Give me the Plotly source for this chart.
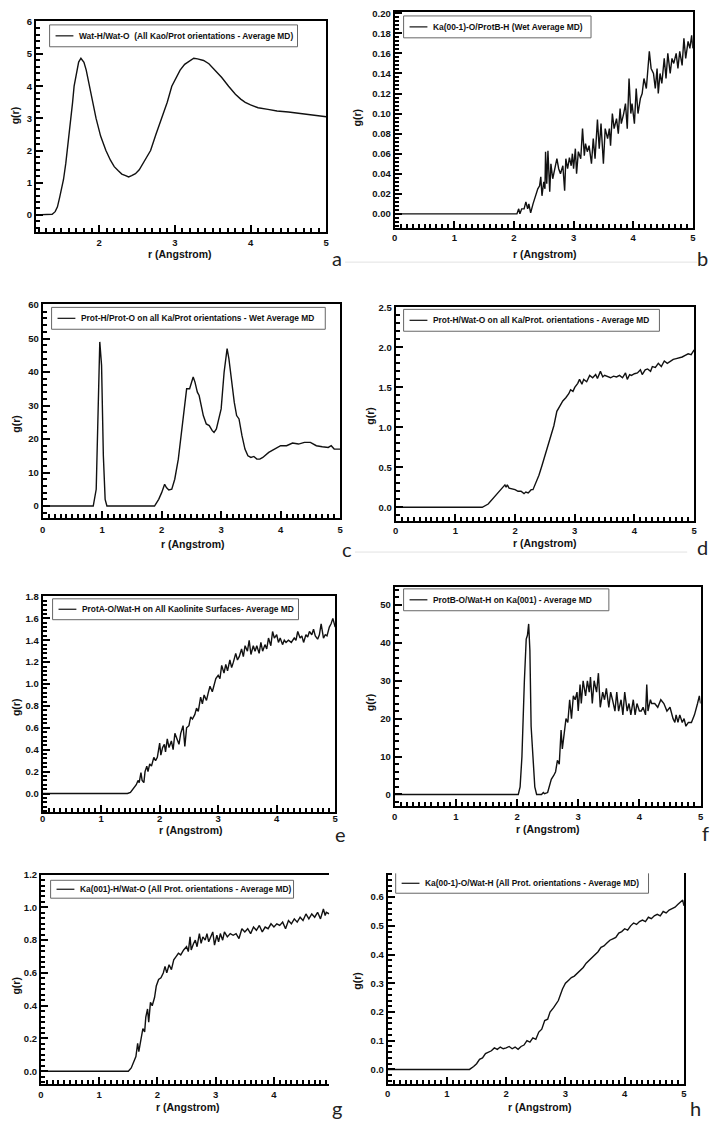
import plotly.graph_objects as go

W, H = 714, 1121

# ---------------- data ----------------
a_r = [1.17, 1.3, 1.38, 1.42, 1.45, 1.48, 1.51, 1.53, 1.56, 1.58, 1.61, 1.63, 1.65, 1.67, 1.7, 1.73, 1.76, 1.78,
       1.8, 1.83, 1.87, 1.91, 1.96, 2.02, 2.09, 2.15, 2.2, 2.25, 2.3, 2.35, 2.39, 2.43, 2.48, 2.53, 2.58, 2.63,
       2.68, 2.75, 2.83, 2.9, 2.96, 3.02, 3.07, 3.13, 3.2, 3.25, 3.3, 3.38, 3.45, 3.53, 3.62, 3.71, 3.8, 3.87,
       3.93, 4.0, 4.1, 4.23, 4.35, 4.5, 4.67, 4.8, 4.9, 5.0]
a_g = [0.0, 0.0, 0.02, 0.1, 0.25, 0.55, 0.9, 1.1, 1.6, 2.0, 2.5, 3.0, 3.5, 4.0, 4.4, 4.75, 4.87, 4.78,
       4.74, 4.5, 4.0, 3.5, 3.0, 2.45, 2.0, 1.7, 1.5, 1.38, 1.27, 1.22, 1.18, 1.22, 1.28, 1.4, 1.6, 1.8,
       2.0, 2.5, 3.0, 3.5, 4.0, 4.3, 4.5, 4.68, 4.8, 4.87, 4.85, 4.8, 4.7, 4.5, 4.27, 4.0, 3.75, 3.6,
       3.5, 3.42, 3.33, 3.28, 3.23, 3.2, 3.15, 3.12, 3.08, 3.05]

b_r = [0.0, 2.05, 2.08, 2.1, 2.13, 2.17, 2.2, 2.23, 2.25, 2.28, 2.32, 2.36, 2.4, 2.43, 2.45, 2.47, 2.5, 2.52,
       2.53, 2.55, 2.57, 2.6, 2.62, 2.65, 2.68, 2.72, 2.75, 2.78, 2.82, 2.85, 2.87, 2.9, 2.93, 2.96, 2.98, 3.0,
       3.03, 3.05, 3.08, 3.12, 3.15, 3.18, 3.2, 3.23, 3.26, 3.3, 3.33, 3.36, 3.4, 3.43, 3.46, 3.5, 3.53, 3.57,
       3.6, 3.62, 3.65, 3.68, 3.72, 3.75, 3.78, 3.8, 3.84, 3.87, 3.9, 3.93, 3.96, 3.98, 4.02, 4.05, 4.08, 4.12,
       4.15, 4.18, 4.22, 4.27, 4.3, 4.34, 4.37, 4.4, 4.42, 4.45, 4.48, 4.52, 4.55, 4.58, 4.62, 4.65, 4.68, 4.72,
       4.75, 4.78, 4.82, 4.85, 4.88, 4.92, 4.95, 4.98, 5.0]
b_g = [0.0, 0.0, 0.005, 0.0, 0.005, 0.005, 0.012, 0.005, 0.01, 0.001, 0.01, 0.018, 0.025, 0.028, 0.037, 0.018,
       0.032, 0.025, 0.062, 0.03, 0.063, 0.022, 0.05, 0.035, 0.045, 0.055, 0.045, 0.04, 0.048, 0.023, 0.055,
       0.045, 0.056, 0.048, 0.06, 0.045, 0.065, 0.04, 0.062, 0.055, 0.085, 0.058, 0.07, 0.062, 0.068, 0.05,
       0.075, 0.055, 0.094, 0.065, 0.09, 0.05, 0.085, 0.075, 0.085, 0.068, 0.1, 0.085, 0.095, 0.08, 0.105,
       0.09, 0.1, 0.11, 0.085, 0.135, 0.1, 0.11, 0.09, 0.125, 0.1, 0.115, 0.12, 0.135, 0.125, 0.162, 0.145,
       0.14, 0.125, 0.145, 0.12, 0.14, 0.13, 0.155, 0.135, 0.16, 0.14, 0.155, 0.15, 0.16, 0.145, 0.162, 0.148,
       0.175, 0.155, 0.172, 0.165, 0.178, 0.165]

c_r = [0.0, 0.85, 0.9, 0.93, 0.96, 0.99, 1.02, 1.05, 1.08, 1.88, 1.95, 2.0, 2.05, 2.08, 2.12, 2.17, 2.22, 2.28,
       2.33, 2.38, 2.42, 2.47, 2.5, 2.53, 2.56, 2.6, 2.63, 2.66, 2.7, 2.75, 2.8, 2.85, 2.88, 2.92, 2.96, 3.0,
       3.05, 3.1, 3.13, 3.18, 3.22, 3.26, 3.3, 3.35, 3.4, 3.45, 3.5, 3.55, 3.6, 3.65, 3.7, 3.8, 3.9, 4.0, 4.1,
       4.2, 4.3, 4.4, 4.5, 4.6, 4.7, 4.8, 4.85, 4.9, 5.0]
c_g = [0.0, 0.0, 5.0, 25.0, 49.0, 42.0, 15.0, 2.0, 0.0, 0.0, 2.0, 4.0, 6.5, 5.5, 4.8, 5.0, 8.0, 14.0,
       22.0, 30.0, 35.0, 35.0, 37.0, 38.5, 37.0, 34.0, 33.0, 30.0, 27.0, 24.5, 24.0, 22.5, 22.0, 23.0, 26.0, 29.0,
       40.0, 47.0, 44.0, 36.0, 31.0, 27.0, 26.0, 21.0, 17.0, 15.0, 14.5, 14.8, 14.0, 14.0, 14.5, 16.0, 17.0, 18.0, 18.0,
       18.8, 18.5, 19.0, 19.0, 18.0, 17.7, 17.5, 18.0, 17.0, 17.0]

d_r = [0.0, 1.45, 1.55, 1.62, 1.7, 1.78, 1.83, 1.85, 1.87, 1.9, 1.95, 2.0, 2.05, 2.1, 2.15, 2.18, 2.22, 2.27,
       2.3, 2.35, 2.4, 2.45, 2.5, 2.55, 2.6, 2.65, 2.7, 2.75, 2.8, 2.85, 2.9, 2.93, 2.97, 3.0, 3.05, 3.08, 3.12,
       3.15, 3.2, 3.25, 3.3, 3.35, 3.38, 3.43, 3.47, 3.5, 3.55, 3.6, 3.65, 3.7, 3.75, 3.8, 3.85, 3.88, 3.92,
       3.95, 4.0, 4.05, 4.1, 4.13, 4.18, 4.22, 4.27, 4.3, 4.35, 4.4, 4.45, 4.5, 4.55, 4.6, 4.65, 4.7, 4.75,
       4.8, 4.85, 4.9, 4.95, 5.0]
d_g = [0.0, 0.0, 0.04, 0.1, 0.18, 0.25, 0.28, 0.25, 0.28, 0.24, 0.23, 0.22, 0.2, 0.2, 0.17, 0.19, 0.18, 0.22,
       0.22, 0.3, 0.4, 0.52, 0.65, 0.78, 0.9, 1.02, 1.2, 1.27, 1.33, 1.37, 1.42, 1.47, 1.45, 1.5, 1.55, 1.6, 1.54,
       1.6, 1.57, 1.65, 1.62, 1.66, 1.61, 1.7, 1.63, 1.65, 1.63, 1.62, 1.64, 1.63, 1.65, 1.62, 1.68, 1.6, 1.66,
       1.65, 1.67, 1.68, 1.72, 1.66, 1.72, 1.73, 1.7, 1.76, 1.75, 1.8, 1.76, 1.83, 1.8, 1.83, 1.85, 1.86, 1.87,
       1.88, 1.9, 1.92, 1.91, 1.97]

e_r = [0.0, 1.45, 1.5, 1.55, 1.6, 1.63, 1.65, 1.68, 1.7, 1.73, 1.75, 1.78, 1.8, 1.83, 1.86, 1.9, 1.93, 1.96,
       2.0, 2.02, 2.05, 2.08, 2.1, 2.13, 2.16, 2.2, 2.23, 2.26, 2.3, 2.33, 2.36, 2.4, 2.43, 2.46, 2.5, 2.53,
       2.56, 2.6, 2.63, 2.66, 2.7, 2.73, 2.76, 2.8, 2.83, 2.86, 2.9, 2.93, 2.96, 3.0, 3.03, 3.06, 3.1, 3.13,
       3.16, 3.2, 3.23, 3.26, 3.3, 3.33, 3.36, 3.4, 3.43, 3.46, 3.5, 3.53, 3.56, 3.6, 3.63, 3.66, 3.7, 3.73,
       3.76, 3.8, 3.83, 3.86, 3.9, 3.93, 3.96, 4.0, 4.03, 4.06, 4.1, 4.13, 4.16, 4.2, 4.25, 4.3, 4.33, 4.36,
       4.4, 4.43, 4.46, 4.5, 4.53, 4.56, 4.6, 4.63, 4.66, 4.7, 4.73, 4.76, 4.8, 4.83, 4.86, 4.9, 4.93, 4.96, 5.0]
e_g = [0.0, 0.0, 0.01, 0.05, 0.08, 0.12, 0.1, 0.19, 0.12, 0.1, 0.2, 0.25, 0.2, 0.27, 0.25, 0.33, 0.3, 0.33,
       0.46, 0.35, 0.42, 0.45, 0.38, 0.5, 0.42, 0.48, 0.4, 0.55, 0.5, 0.45, 0.55, 0.62, 0.43, 0.6, 0.62, 0.7,
       0.68, 0.72, 0.78, 0.75, 0.88, 0.82, 0.9, 0.85, 0.92, 0.98, 0.93, 1.0, 1.05, 1.08, 1.05, 1.17, 1.1, 1.18,
       1.12, 1.22, 1.15, 1.2, 1.28, 1.22, 1.25, 1.32, 1.25, 1.35, 1.3, 1.4, 1.27, 1.35, 1.3, 1.35, 1.28, 1.38,
       1.3, 1.36, 1.32, 1.42, 1.35, 1.48, 1.42, 1.45, 1.38, 1.42, 1.36, 1.4, 1.38, 1.4, 1.38, 1.42, 1.4, 1.48,
       1.42, 1.44, 1.38, 1.45, 1.43, 1.48, 1.45, 1.5, 1.44, 1.41, 1.45, 1.55, 1.42, 1.45, 1.44, 1.52, 1.55, 1.6, 1.52]

f_r = [0.0, 2.02, 2.05, 2.08, 2.12, 2.15, 2.17, 2.19, 2.21, 2.23, 2.26, 2.29, 2.32, 2.4, 2.43, 2.45, 2.5,
       2.53, 2.56, 2.6, 2.63, 2.66, 2.69, 2.72, 2.74, 2.77, 2.8, 2.83, 2.86, 2.89, 2.92, 2.95, 2.98, 3.0, 3.03,
       3.05, 3.08, 3.12, 3.15, 3.18, 3.2, 3.23, 3.26, 3.3, 3.33, 3.36, 3.4, 3.43, 3.46, 3.5, 3.53, 3.56, 3.6,
       3.63, 3.66, 3.7, 3.73, 3.76, 3.8, 3.83, 3.86, 3.9, 3.93, 3.96, 4.0, 4.03, 4.06, 4.1, 4.12, 4.14, 4.18,
       4.2, 4.25, 4.3, 4.35, 4.4, 4.45, 4.5, 4.55, 4.58, 4.6, 4.63, 4.66, 4.7, 4.73, 4.76, 4.8, 4.85, 4.9,
       4.95, 4.98, 5.0]
f_g = [0.0, 0.0, 2.0, 10.0, 30.0, 41.0, 42.0, 45.0, 38.0, 18.0, 10.0, 2.0, 0.0, 0.0, 0.5, 0.2, 0.5,
       2.0, 4.0, 5.0, 6.0, 9.0, 8.0, 17.0, 12.0, 16.0, 20.0, 19.0, 25.0, 20.0, 26.0, 25.0, 27.0, 22.0, 29.0,
       24.0, 30.0, 26.0, 30.0, 27.0, 31.0, 24.0, 30.0, 27.0, 32.0, 23.0, 27.0, 25.0, 28.0, 23.0, 27.0, 25.0, 22.0,
       27.0, 22.0, 25.0, 21.0, 27.0, 22.0, 24.0, 21.0, 25.0, 21.0, 24.0, 22.0, 22.0, 23.0, 21.0, 29.0, 22.0, 25.0,
       24.0, 24.0, 23.0, 25.0, 24.0, 22.0, 23.0, 20.0, 19.0, 21.0, 19.0, 21.0, 19.0, 20.0, 18.0, 19.0, 19.0, 21.0,
       24.0, 26.0, 24.0]

g_r = [0.0, 1.5, 1.55, 1.6, 1.63, 1.66, 1.68, 1.72, 1.75, 1.78, 1.8, 1.83, 1.85, 1.88, 1.91, 1.95, 1.98, 2.02,
       2.06, 2.1, 2.13, 2.16, 2.2, 2.24, 2.28, 2.32, 2.36, 2.4, 2.45, 2.5, 2.53, 2.56, 2.58, 2.62, 2.65, 2.68,
       2.72, 2.75, 2.78, 2.82, 2.85, 2.88, 2.92, 2.95, 2.98, 3.02, 3.05, 3.08, 3.12, 3.15, 3.2, 3.25, 3.3, 3.35,
       3.4, 3.45, 3.5, 3.55, 3.6, 3.65, 3.7, 3.75, 3.8, 3.85, 3.9, 3.95, 4.0, 4.05, 4.1, 4.15, 4.2, 4.25, 4.3,
       4.35, 4.4, 4.45, 4.5, 4.55, 4.6, 4.65, 4.7, 4.75, 4.8, 4.85, 4.88, 4.9, 4.95]
g_g = [0.0, 0.0, 0.02, 0.06, 0.09, 0.17, 0.12, 0.2, 0.26, 0.24, 0.33, 0.38, 0.3, 0.42, 0.4, 0.45, 0.52, 0.56,
       0.57, 0.6, 0.64, 0.6, 0.65, 0.62, 0.68, 0.7, 0.72, 0.71, 0.74, 0.76, 0.73, 0.82, 0.74, 0.78, 0.8, 0.76,
       0.84, 0.78, 0.82, 0.8, 0.84, 0.79, 0.82, 0.85, 0.77, 0.83, 0.79, 0.84, 0.8, 0.85, 0.82, 0.84, 0.83, 0.84,
       0.81, 0.87, 0.85, 0.87, 0.84, 0.88, 0.86, 0.89, 0.85, 0.88, 0.87, 0.9, 0.88, 0.9, 0.89, 0.91, 0.87, 0.92, 0.9,
       0.93, 0.91, 0.94, 0.92, 0.96, 0.93, 0.96, 0.94, 0.97, 0.93, 0.99, 0.95, 0.97, 0.96]

h_r = [0.0, 1.38, 1.45, 1.5, 1.55, 1.6, 1.65, 1.7, 1.75, 1.8, 1.85, 1.9, 1.95, 2.0, 2.05, 2.1, 2.15, 2.2,
       2.25, 2.3, 2.35, 2.4, 2.45, 2.5, 2.55, 2.6, 2.65, 2.7, 2.74, 2.8, 2.85, 2.88, 2.95, 3.0, 3.05, 3.1, 3.15,
       3.2, 3.25, 3.3, 3.35, 3.4, 3.45, 3.5, 3.55, 3.6, 3.65, 3.7, 3.75, 3.8, 3.85, 3.9, 3.95, 4.0, 4.05, 4.1,
       4.15, 4.2, 4.25, 4.3, 4.35, 4.4, 4.45, 4.5, 4.55, 4.6, 4.65, 4.7, 4.75, 4.8, 4.85, 4.9, 4.95, 4.98, 5.0]
h_g = [0.0, 0.0, 0.01, 0.02, 0.035, 0.04, 0.055, 0.06, 0.065, 0.075, 0.07, 0.078, 0.072, 0.075, 0.08, 0.072,
       0.078, 0.07, 0.08, 0.085, 0.1, 0.095, 0.11, 0.105, 0.13, 0.14, 0.17, 0.175, 0.2, 0.215, 0.23, 0.24, 0.28,
       0.3, 0.31, 0.32, 0.325, 0.335, 0.345, 0.355, 0.37, 0.38, 0.39, 0.4, 0.41, 0.425, 0.43, 0.44, 0.45, 0.455,
       0.46, 0.475, 0.48, 0.49, 0.485, 0.5, 0.51, 0.505, 0.515, 0.52, 0.515, 0.53, 0.525, 0.535, 0.54, 0.535,
       0.55, 0.545, 0.555, 0.56, 0.565, 0.575, 0.585, 0.59, 0.57]

labels = {
    "a": "Wat-H/Wat-O  (All Kao/Prot orientations - Average MD)",
    "b": "Ka(00-1)-O/ProtB-H (Wet Average MD)",
    "c": "Prot-H/Prot-O on all Ka/Prot orientations - Wet Average MD",
    "d": "Prot-H/Wat-O on all Ka/Prot. orientations - Average MD",
    "e": "ProtA-O/Wat-H on All Kaolinite Surfaces- Average MD",
    "f": "ProtB-O/Wat-H on Ka(001) - Average MD",
    "g": "Ka(001)-H/Wat-O (All Prot. orientations - Average MD)",
    "h": "Ka(00-1)-O/Wat-H (All Prot. orientations - Average MD)",
}
data = {"a": (a_r, a_g), "b": (b_r, b_g), "c": (c_r, c_g), "d": (d_r, d_g),
        "e": (e_r, e_g), "f": (f_r, f_g), "g": (g_r, g_g), "h": (h_r, h_g)}

# ---------------- layout settings (pixels) ----------------
# box: left, top, right, bottom
cfg = {
    "a": dict(box=(33.3, 15, 326, 227.7), xr=[1.167, 5], yr=[-0.547, 6.03], ydt=1, ymin=0.2, yfmt="d",
              leg=(47, 19, 297, 41), lab=(337, 253), xt=(178, 249), yt=(13, 110), top=True, right=True, so=0),
    "b": dict(box=(395, 6, 695.7, 222.7), xr=[0, 5], yr=[-0.0136, 0.2013], ydt=0.02, ymin=0.004, yfmt=".2f",
              leg=(404, 10, 593, 32), lab=(705, 253), xt=(547, 249), yt=(357, 112), top=True, right=True, so=0),
    "c": dict(box=(40, 300, 340, 515), xr=[0, 5], yr=[-3.65, 60.2], ydt=10, ymin=2, yfmt="d",
              leg=(49, 303, 325, 325), lab=(347, 546), xt=(192, 541), yt=(13, 420), top=True, right=True, so=1),
    "d": dict(box=(396, 302.7, 697, 517.3), xr=[0, 5], yr=[-0.166, 2.504], ydt=0.5, ymin=0.1, yfmt=".1f",
              leg=(404, 305, 662, 327), lab=(705, 544), xt=(547, 540), yt=(370, 412), top=True, right=True, so=0),
    "e": dict(box=(40, 593.3, 335, 810.7), xr=[0, 5], yr=[-0.172, 1.803], ydt=0.2, ymin=0.04, yfmt=".1f",
              leg=(50, 596, 298, 617), lab=(340, 832), xt=(190, 828), yt=(13, 705), top=True, right=True, so=-4),
    "f": dict(box=(395, 584.3, 703.5, 804.3), xr=[0, 5], yr=[-3.05, 54.7], ydt=10, ymin=2, yfmt="d",
              leg=(404, 586, 611, 608), lab=(708, 831), xt=(550, 827), yt=(370, 700), top=True, right=True, so=1),
    "g": dict(box=(38.3, 873.3, 329, 1084.3), xr=[0, 4.95], yr=[-0.081, 1.2], ydt=0.2, ymin=0.0333333, yfmt=".1f",
              leg=(48, 879, 293, 897), lab=(337, 1108), xt=(187, 1107), yt=(13, 985), top=True, right=False, so=0),
    "h": dict(box=(388, 871.7, 686.7, 1083.3), xr=[0, 5], yr=[-0.049, 0.684], ydt=0.1, ymin=0.02, yfmt=".1f",
              leg=(396, 862, 651, 892), lab=(698, 1108), xt=(542, 1107), yt=(357, 980), top=False, right=True, so=0),
}

FONT = "Liberation Sans"


def px(x):
    return x / W


def py(y):
    return 1 - y / H


fig = go.Figure()
shapes = []
annotations = []

for i, key in enumerate("abcdefgh"):
    c = cfg[key]
    r, g = data[key]
    n = "" if i == 0 else str(i + 1)
    xa, ya = "x" + n, "y" + n
    fig.add_trace(go.Scatter(x=r, y=g, mode="lines", xaxis=xa, yaxis=ya,
                             line=dict(color="#111111", width=1.4), showlegend=False, hoverinfo="skip"))
    L, T, R, B = c["box"]
    tickfont = dict(family=FONT, size=9.5, color="#111111", weight="bold")
    fig.layout["xaxis" + n] = dict(
        domain=[px(L), px(R)], range=c["xr"], anchor=ya,
        showline=True, linecolor="black", linewidth=2, mirror=c["top"],
        ticks="inside", ticklen=7, tickwidth=2, tickcolor="black", dtick=1, tick0=0,
        ticklabelstandoff=c["so"],
        minor=dict(ticks="inside", ticklen=4, tickwidth=1.6, tickcolor="black", dtick=0.1, tick0=0),
        showgrid=False, zeroline=False, tickfont=tickfont, fixedrange=True,
    )
    fig.layout["yaxis" + n] = dict(
        domain=[py(B), py(T)], range=c["yr"], anchor=xa,
        showline=True, linecolor="black", linewidth=2, mirror=c["right"],
        ticks="inside", ticklen=7, tickwidth=2, tickcolor="black", dtick=c["ydt"], tick0=0,
        tickformat=c["yfmt"],
        minor=dict(ticks="inside", ticklen=4, tickwidth=1.6, tickcolor="black", dtick=c["ymin"], tick0=0),
        showgrid=False, zeroline=False, tickfont=tickfont, fixedrange=True,
    )
    # legend box
    lx0, ly0, lx1, ly1 = c["leg"]
    if key == "h":
        shapes.append(dict(type="path", xref="paper", yref="paper",
                           path=f"M {px(lx0)},{py(872)} L {px(lx0)},{py(ly1)} L {px(lx1)},{py(ly1)} L {px(lx1)},{py(872)}",
                           line=dict(color="#666666", width=1)))
    else:
        shapes.append(dict(type="rect", xref="paper", yref="paper", x0=px(lx0), x1=px(lx1), y0=py(ly1), y1=py(ly0),
                           line=dict(color="#666666", width=1), fillcolor="white", layer="below"))
    ym = (ly0 + ly1) / 2 if key != "h" else 882
    shapes.append(dict(type="line", xref="paper", yref="paper", x0=px(lx0 + 6), x1=px(lx0 + 24), y0=py(ym), y1=py(ym),
                       line=dict(color="#111111", width=1.2)))
    annotations.append(dict(text=labels[key], xref="paper", yref="paper", x=px(lx0 + 28), y=py(ym),
                            xanchor="left", yanchor="middle", showarrow=False,
                            font=dict(family=FONT, size=8.4, color="#111111", weight="bold")))
    # axis titles
    annotations.append(dict(text="r (Angstrom)", xref="paper", yref="paper", x=px(c["xt"][0]), y=py(c["xt"][1]),
                            xanchor="center", yanchor="middle", showarrow=False,
                            font=dict(family=FONT, size=10.5, color="#111111", weight="bold")))
    annotations.append(dict(text="g(r)", xref="paper", yref="paper", x=px(c["yt"][0]), y=py(c["yt"][1]),
                            xanchor="center", yanchor="middle", showarrow=False, textangle=-90,
                            font=dict(family=FONT, size=10.5, color="#111111", weight="bold")))
    # panel letter
    annotations.append(dict(text=key, xref="paper", yref="paper", x=px(c["lab"][0]), y=py(c["lab"][1]),
                            xanchor="center", yanchor="middle", showarrow=False,
                            font=dict(family="Lato", size=20, color="#222222")))

# faint separator lines
shapes.append(dict(type="line", xref="paper", yref="paper", x0=px(345), x1=px(700), y0=py(257.5), y1=py(257.5),
                   line=dict(color="#e2e2e2", width=1)))
shapes.append(dict(type="line", xref="paper", yref="paper", x0=px(355), x1=px(690), y0=py(549), y1=py(549),
                   line=dict(color="#e2e2e2", width=1)))

fig.update_layout(width=W, height=H, margin=dict(l=0, r=0, t=0, b=0),
                  paper_bgcolor="white", plot_bgcolor="white",
                  shapes=shapes, annotations=annotations)

fig.write_html("out.html", config={"displayModeBar": False},
               post_script="document.body.style.margin='0';document.body.style.padding='0';"
                           "document.body.style.overflow='hidden';")
